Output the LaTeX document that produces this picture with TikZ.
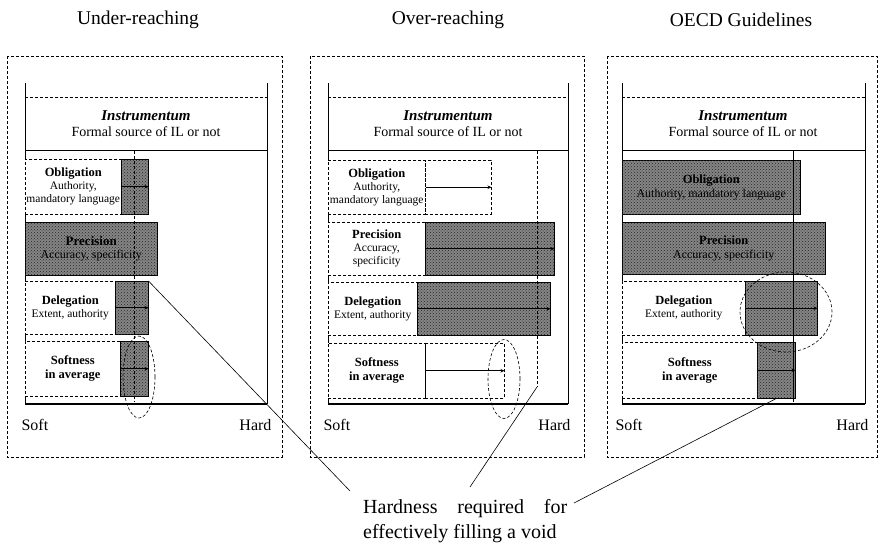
\documentclass[tikz,border=0pt]{standalone}
\usepackage{fontspec}
\setmainfont{Liberation Serif}
\usetikzlibrary{patterns,arrows.meta,shapes.geometric}

\tikzset{
  panelbox/.style={draw, line width=0.6pt, densely dashed},
  frameside/.style={line width=1pt},
  framebase/.style={line width=1.4pt},
  topline/.style={line width=0.6pt, densely dashed},
  midline/.style={line width=1pt},
  rowbox/.style={draw, line width=0.5pt, densely dashed, fill=white, anchor=north west,
    inner sep=1pt, align=center, font=\fontsize{11.5}{13}\selectfont},
  greybar/.style={draw, line width=0.5pt, fill=black!48,
    postaction={pattern=crosshatch dots, pattern color=black!85},
    anchor=north west, inner sep=1pt, align=center, font=\fontsize{12}{13.5}\selectfont},
  openbar/.style={draw, line width=0.5pt, densely dashed, anchor=north west},
  reach/.style={-{Stealth[length=4pt,width=3.5pt]}, line width=0.7pt},
  ring/.style={ellipse, draw, densely dashed, line width=0.6pt, inner sep=0pt},
  lead/.style={line width=0.6pt},
  title/.style={font=\fontsize{19.5}{22}\selectfont},
  axis/.style={font=\fontsize{16}{18}\selectfont},
  inst/.style={align=center, font=\fontsize{14}{16}\selectfont},
  rowlabel/.style={font=\bfseries\fontsize{12.5}{14}\selectfont},
}

\begin{document}
\begin{tikzpicture}[x=1pt, y=-1pt]
\useasboundingbox (0,0) rectangle (878,546);

% ---------- titles ----------
\node[title] (t-under) at (138,20) {Under-reaching};
\node[title] (t-over)  at (448,20) {Over-reaching};
\node[title] (t-oecd)  at (741,20) {OECD Guidelines};

% ---------- panel frames ----------
\foreach \L/\R/\a/\b in {7/282/25/267, 310/584/328/568, 607/877/622/865}{
  \draw[panelbox] (\L,56) rectangle (\R,457);
  \draw[frameside] (\a,83) -- (\a,404);
  \draw[frameside] (\b,83) -- (\b,404);
  \draw[framebase] (\a,404) -- (\b,404);
  \draw[topline] (\a,97) -- (\b,97);
  \draw[midline] (\a,150) -- (\b,150);
}

% ---------- instrumentum headers ----------
\foreach \c/\n in {146/u, 448/o, 743/r}{
  \node[inst] (\n-inst) at (\c,124)
    {{\bfseries\itshape\fontsize{15}{17}\selectfont Instrumentum}\\[0pt]Formal source of IL or not};
}

% ---------- soft / hard axis ----------
\node[axis, anchor=west] (u-soft) at (18,425) {Soft};
\node[axis, anchor=east] (u-hard) at (275,425) {Hard};
\node[axis, anchor=west] (o-soft) at (320,425) {Soft};
\node[axis, anchor=east] (o-hard) at (574,425) {Hard};
\node[axis, anchor=west] (r-soft) at (612,425) {Soft};
\node[axis, anchor=east] (r-hard) at (872,425) {Hard};

% ================= Under-reaching =================
\node[greybar, minimum width=27pt, minimum height=55pt] (u-ob-bar) at (121,159) {};
\node[rowbox, minimum width=96pt, minimum height=55pt] (u-ob) at (25,159)
  {{\bfseries\fontsize{12.5}{14}\selectfont Obligation}\\Authority,\\mandatory language};
\node[greybar, minimum width=132pt, minimum height=53pt] (u-pr) at (25,222)
  {{\bfseries\fontsize{13}{14}\selectfont Precision}\\Accuracy, specificity};
\node[greybar, minimum width=33pt, minimum height=53pt] (u-dl-bar) at (115,281) {};
\node[rowbox, minimum width=90pt, minimum height=53pt] (u-dl) at (25,281)
  {{\bfseries\fontsize{12.5}{14}\selectfont Delegation}\\Extent, authority};
\node[greybar, minimum width=28pt, minimum height=55pt] (u-sf-bar) at (120,341) {};
\node[rowbox, rowlabel, minimum width=95pt, minimum height=55pt] (u-sf) at (25,341)
  {Softness\\in average};

\coordinate (u-top) at (134,151);
\coordinate (u-bot) at (134,402);
\draw[densely dashed, line width=0.6pt] (u-top) -- (u-bot);
\draw[reach] (u-ob.east) -- (u-ob-bar.east);
\draw[reach] (u-dl.east) -- (u-dl-bar.east);
\draw[reach] (u-sf.east) -- (u-sf-bar.east);
\node[ring, minimum width=32pt, minimum height=82pt] (u-ring) at (139,377) {};

% ================= Over-reaching =================
\node[rowbox, minimum width=97pt, minimum height=54pt] (o-ob) at (328,160)
  {{\bfseries\fontsize{12.5}{14}\selectfont Obligation}\\Authority,\\mandatory language};
\node[openbar, minimum width=66pt, minimum height=54pt] (o-ob-bar) at (425,160) {};
\node[rowbox, minimum width=97pt, minimum height=53pt] (o-pr) at (328,222)
  {{\bfseries\fontsize{12.5}{14}\selectfont Precision}\\Accuracy,\\specificity};
\node[greybar, minimum width=129pt, minimum height=53pt] (o-pr-bar) at (425,222) {};
\node[rowbox, minimum width=89pt, minimum height=53pt] (o-dl) at (328,282)
  {{\bfseries\fontsize{12.5}{14}\selectfont Delegation}\\Extent, authority};
\node[greybar, minimum width=133pt, minimum height=53pt] (o-dl-bar) at (417,282) {};
\node[rowbox, rowlabel, minimum width=97pt, minimum height=55pt] (o-sf) at (328,343)
  {Softness\\in average};
\node[openbar, minimum width=79pt, minimum height=55pt] (o-sf-bar) at (425,343) {};

\coordinate (o-top) at (537,151);
\coordinate (o-tick) at (537,387);
\draw[densely dashed, line width=0.6pt] (o-top) -- (o-tick);
\draw[reach] (o-ob.east) -- (o-ob-bar.east);
\draw[reach] (o-pr.east) -- (o-pr-bar.east);
\draw[reach] (o-dl.east) -- (o-dl-bar.east);
\draw[reach] (o-sf.east) -- (o-sf-bar.east);
\node[ring, minimum width=32pt, minimum height=79pt] (o-ring) at (504,379) {};

% ================= OECD Guidelines =================
\node[greybar, minimum width=178pt, minimum height=54pt] (r-ob) at (622,160)
  {{\bfseries\fontsize{12.5}{14}\selectfont Obligation}\\Authority, mandatory language};
\node[greybar, minimum width=203pt, minimum height=52pt] (r-pr) at (622,222)
  {{\bfseries\fontsize{12.5}{14}\selectfont Precision}\\Accuracy, specificity};
\node[rowbox, minimum width=123pt, minimum height=54pt] (r-dl) at (622,281)
  {{\bfseries\fontsize{12.5}{14}\selectfont Delegation}\\Extent, authority};
\node[greybar, minimum width=72pt, minimum height=54pt] (r-dl-bar) at (745,281) {};
\node[rowbox, rowlabel, minimum width=135pt, minimum height=56pt] (r-sf) at (622,342)
  {Softness\\in average};
\node[greybar, minimum width=38pt, minimum height=56pt] (r-sf-bar) at (757,342) {};

\coordinate (r-top) at (793,151);
\coordinate (r-bot) at (793,402);
\draw[line width=0.6pt] (r-top) -- (r-bot);
\draw[reach] (r-dl.east) -- (r-dl-bar.east);
\draw[reach] (r-sf.east) -- (r-sf-bar.east);
\node[ring, minimum width=92pt, minimum height=80pt] (r-ring) at (786,312) {};

% ---------- shared note and leader lines ----------
\node[font=\fontsize{20}{25}\selectfont, align=left, anchor=west, inner sep=0pt] (note) at (363,521)
  {\makebox[204pt][s]{Hardness required for}\\effectively filling a void};
\coordinate (lead-u) at (350,491);
\coordinate (lead-o) at (470,487);
\coordinate (lead-r) at (574,503);
\draw[lead] (u-dl-bar.north east) -- (lead-u);
\draw[lead] (o-tick) -- (lead-o);
\draw[lead] (r-sf-bar.south) -- (lead-r);

\end{tikzpicture}
\end{document}
